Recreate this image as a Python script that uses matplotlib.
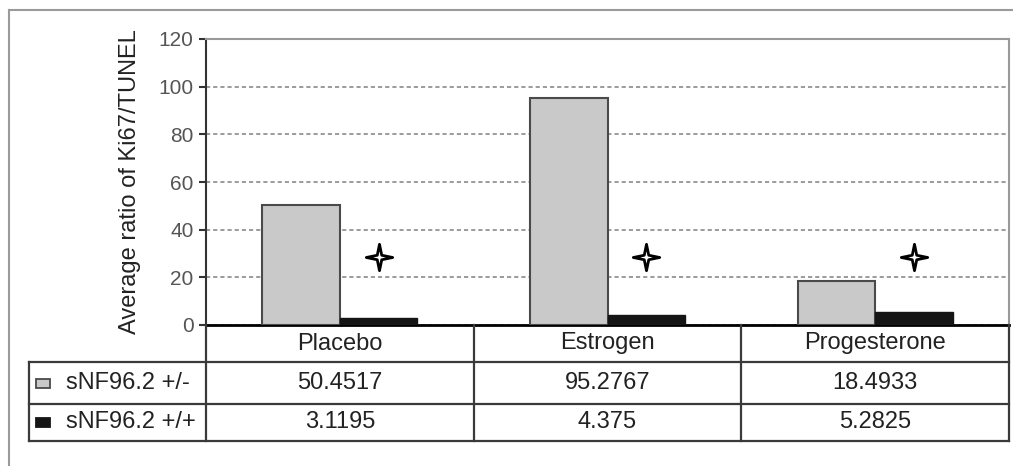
import matplotlib
matplotlib.use("Agg")
import matplotlib.pyplot as plt
from matplotlib.path import Path
from matplotlib.patches import Rectangle
import numpy as np

plt.rcParams['font.family'] = ['Liberation Sans', 'DejaVu Sans']

# dados
grupos = ['Placebo', 'Estrogen', 'Progesterone']
series = ['sNF96.2 +/-', 'sNF96.2 +/+']
het = [50.4517, 95.2767, 18.4933]
homo = [3.1195, 4.375, 5.2825]
het_txt = ['50.4517', '95.2767', '18.4933']
homo_txt = ['3.1195', '4.375', '5.2825']
estrela_y = [28.5, 28.5, 28.5]
yticks = [0, 20, 40, 60, 80, 100, 120]

W, H = 1013, 466
fig = plt.figure(figsize=(W / 100, H / 100), dpi=100)

# eixo principal (em pixels da imagem original)
ax = fig.add_axes([206 / W, 1 - 325 / H, (1009 - 206) / W, (325 - 39) / H])
x = np.arange(len(grupos))
w = 0.29
cor_cinza = '#c9c9c9'
cor_preta = '#151515'
ax.bar(x - w / 2, het, w, color=cor_cinza, edgecolor='#4a4a4a', linewidth=1.5, zorder=3)
ax.bar(x + w / 2, homo, w, color=cor_preta, edgecolor=cor_preta, linewidth=1, zorder=3)

# marcador em forma de estrela de 4 pontas
k = 0.17
verts = [(0, 1), (k, k), (1, 0), (k, -k), (0, -1), (-k, -k), (-1, 0), (-k, k), (0, 1)]
codes = [Path.MOVETO] + [Path.LINETO] * 7 + [Path.CLOSEPOLY]
estrela = Path(verts, codes)
ax.plot(x + w / 2, estrela_y, linestyle='none', marker=estrela, ms=19,
        mfc='white', mec='black', mew=2, zorder=4)

ax.set_xlim(-0.5, len(grupos) - 0.5)
ax.set_ylim(0, 120)
ax.set_yticks(yticks)
ax.set_xticks([])
ax.tick_params(axis='y', labelsize=15, labelcolor='#555555', color='#333333',
               length=5, width=1.5, pad=4)
ax.yaxis.grid(True, linestyle=(0, (2.5, 1.8)), color='#8a8a8a', linewidth=1.2, zorder=0)
ax.spines['left'].set_color('#333333')
ax.spines['left'].set_linewidth(1.5)
ax.spines['bottom'].set_color('black')
ax.spines['bottom'].set_linewidth(2)
for s in ['top', 'right']:
    ax.spines[s].set_color('#999999')
    ax.spines[s].set_linewidth(1.5)
ax.set_ylabel('Average ratio of Ki67/TUNEL', fontsize=17, color='#222222')
ax.yaxis.set_label_coords((141 - 206) / 803, 0.5)

# camada por cima para a tabela e a moldura
ov = fig.add_axes([0, 0, 1, 1])
ov.set_xlim(0, W)
ov.set_ylim(H, 0)
ov.axis('off')
ov.patch.set_visible(False)

# moldura externa
ov.plot([9, 9], [H, 10], color='#9a9a9a', lw=1.5)
ov.plot([9, W], [10, 10], color='#9a9a9a', lw=1.5)

# colunas da tabela alinhadas com as categorias
fig.canvas.draw()
cx = [ax.transData.transform((c, 0))[0] for c in np.arange(len(grupos) + 1) - 0.5]
linhas_y = [325, 362, 404, 441]
esq = 29
cor_linha = '#3a3a3a'
for yy in linhas_y[1:]:
    ov.plot([esq, cx[-1]], [yy, yy], color=cor_linha, lw=1.6)
ov.plot([esq, esq], [linhas_y[1], linhas_y[-1]], color=cor_linha, lw=1.6)
for xx in cx:
    ov.plot([xx, xx], [linhas_y[0], linhas_y[-1]], color=cor_linha, lw=1.6)

meio = [(linhas_y[i] + linhas_y[i + 1]) / 2 for i in range(3)]
for i, g in enumerate(grupos):
    xc = (cx[i] + cx[i + 1]) / 2
    ov.text(xc, meio[0], g, ha='center', va='center', fontsize=17, color='#222222')
    ov.text(xc, meio[1], het_txt[i], ha='center', va='center', fontsize=17, color='#222222')
    ov.text(xc, meio[2], homo_txt[i], ha='center', va='center', fontsize=17, color='#222222')

# rótulos das linhas com quadradinhos de legenda
cores_leg = [cor_cinza, cor_preta]
bordas_leg = ['#4a4a4a', cor_preta]
for j, nome in enumerate(series):
    yc = meio[j + 1]
    ov.add_patch(Rectangle((36, yc - 4.5), 14, 9, facecolor=cores_leg[j],
                           edgecolor=bordas_leg[j], lw=1.3))
    ov.text(66, yc, nome, ha='left', va='center', fontsize=17, color='#222222')

fig.savefig('out.png', dpi=100)
